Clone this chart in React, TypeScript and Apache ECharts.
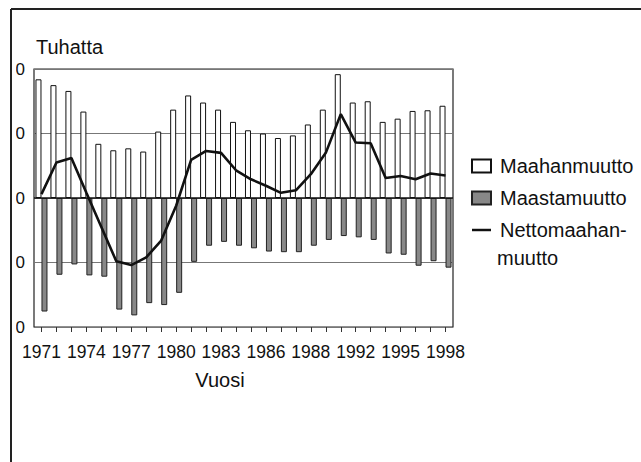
import React, { useEffect, useRef } from "react";
import * as echarts from "echarts";

const years = [
  "1971", "1972", "1973", "1974", "1975", "1976", "1977", "1978", "1979", "1980",
  "1981", "1982", "1983", "1984", "1985", "1986", "1987", "1988", "1989", "1990",
  "1991", "1992", "1993", "1994", "1995", "1996", "1997", "1998",
];

// Tick labels as printed in the reference (every third year)
const tickLabels = [
  "1971", "", "", "1974", "", "", "1977", "", "", "1980",
  "", "", "1983", "", "", "1986", "", "", "1988", "",
  "", "1992", "", "", "1995", "", "", "1998",
];

// Thousands of persons
const immigration = [
  18.4, 17.5, 16.6, 13.4, 8.4, 7.4, 7.7, 7.2, 10.3, 13.7,
  15.9, 14.8, 13.7, 11.8, 10.5, 10.0, 9.3, 9.7, 11.4, 13.7,
  19.2, 14.8, 15.0, 11.8, 12.3, 13.5, 13.6, 14.3,
];

const emigration = [
  -17.6, -11.9, -10.3, -12.0, -12.2, -17.3, -18.2, -16.3, -16.6, -14.7,
  -9.9, -7.4, -6.8, -7.4, -7.8, -8.3, -8.4, -8.4, -7.4, -6.5,
  -5.9, -6.1, -6.5, -8.6, -8.8, -10.5, -9.8, -10.8,
];

const netMigration = [
  0.6, 5.5, 6.2, 0.8, -4.5, -9.8, -10.4, -9.2, -6.6, -1.2,
  5.9, 7.3, 7.0, 4.3, 2.9, 1.9, 0.8, 1.2, 3.7, 7.0,
  13.0, 8.6, 8.5, 3.1, 3.4, 2.9, 3.8, 3.5,
];

const FONT = "'Liberation Sans', Arial, sans-serif";
const TEXT = "#111";

export default function App() {
  const ref = useRef<HTMLDivElement>(null);

  useEffect(() => {
    if (!ref.current) return;
    const chart = echarts.init(ref.current, null, { renderer: "svg" });
    const option: any = {
      animation: false,
      backgroundColor: "#fff",
      textStyle: { fontFamily: FONT },
      title: {
        text: "Tuhatta",
        left: 36,
        top: 37,
        padding: 0,
        textStyle: { fontSize: 20, fontWeight: "normal", color: TEXT, fontFamily: FONT },
      },
      legend: {
        orient: "vertical",
        left: 466,
        top: 151,
        itemWidth: 19,
        itemHeight: 13,
        itemGap: 12,
        textStyle: { fontSize: 20, color: TEXT, fontFamily: FONT, padding: [0, 0, 0, 4] },
        data: [
          { name: "Maahanmuutto", icon: "rect" },
          { name: "Maastamuutto", icon: "rect" },
          { name: "Nettomaahanmuutto", icon: "path://M0,0H20V2.6H0Z" },
        ],
        formatter: (n: string) => (n === "Nettomaahanmuutto" ? "Nettomaahan-" : n),
      },
      grid: {
        left: 34,
        right: 188,
        top: 69,
        bottom: 135,
        show: true,
        containLabel: false,
        outerBoundsMode: "none",
        borderColor: "#222",
        borderWidth: 1.2,
      },
      xAxis: {
        type: "category",
        data: years,
        axisLine: { show: false, onZero: false },
        axisTick: {
          show: true,
          alignWithLabel: true,
          interval: 0,
          length: 5,
          lineStyle: { color: "#333" },
        },
        axisLabel: {
          interval: 0,
          margin: 16,
          fontSize: 17.5,
          color: TEXT,
          fontFamily: FONT,
          formatter: (_v: string, i: number) => tickLabels[i],
        },
        splitLine: { show: false },
      },
      yAxis: {
        type: "value",
        min: -20,
        max: 20,
        interval: 10,
        axisLine: { show: false },
        axisTick: { show: false },
        axisLabel: { fontSize: 17, color: TEXT, fontFamily: FONT, margin: 9 },
        splitLine: { lineStyle: { color: "#777", width: 1 } },
      },
      series: [
        {
          name: "Maahanmuutto",
          type: "bar",
          data: immigration,
          barWidth: 6,
          barGap: "0%",
          itemStyle: { color: "#fff", borderColor: "#111", borderWidth: 1 },
        },
        {
          name: "Maastamuutto",
          type: "bar",
          data: emigration,
          barWidth: 6,
          barGap: "0%",
          itemStyle: { color: "#888", borderColor: "#222", borderWidth: 1 },
        },
        {
          name: "Nettomaahanmuutto",
          type: "line",
          data: netMigration,
          symbol: "none",
          z: 5,
          lineStyle: { color: "#111", width: 2.6 },
          itemStyle: { color: "#111" },
          markLine: {
            silent: true,
            symbol: "none",
            label: { show: false },
            lineStyle: { color: "#111", width: 1.6, type: "solid" },
            data: [{ yAxis: 0 }],
          },
        },
      ],
      graphic: [
        {
          type: "rect",
          z: 100,
          shape: { x: 0, y: 55, width: 16, height: 290 },
          style: { fill: "#fff" },
        },
        {
          type: "line",
          z: 101,
          shape: { x1: 11, y1: 9, x2: 11, y2: 462 },
          style: { stroke: "#222", lineWidth: 2 },
        },
        {
          type: "line",
          z: 101,
          shape: { x1: 11, y1: 9, x2: 641, y2: 9 },
          style: { stroke: "#222", lineWidth: 2 },
        },
        {
          type: "text",
          x: 220,
          y: 380,
          style: {
            text: "Vuosi",
            fill: TEXT,
            fontSize: 20,
            fontFamily: FONT,
            textAlign: "center",
            textVerticalAlign: "middle",
          },
        },
        {
          type: "text",
          x: 497,
          y: 258,
          style: {
            text: "muutto",
            fill: TEXT,
            fontSize: 20,
            fontFamily: FONT,
            textAlign: "left",
            textVerticalAlign: "middle",
          },
        },
      ],
    };
    chart.setOption(option);
    return () => chart.dispose();
  }, []);

  return (
    <div
      ref={ref}
      style={{ position: "absolute", left: 0, top: 0, width: 641, height: 462 }}
    />
  );
}
